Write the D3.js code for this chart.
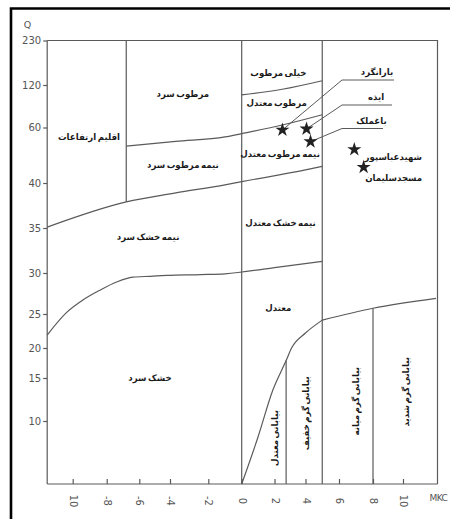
<!DOCTYPE html>
<html>
<head>
<meta charset="utf-8">
<script src="https://cdn.jsdelivr.net/npm/d3@7/dist/d3.min.js"></script>
<style>
  html, body { margin: 0; padding: 0; background: #fff; }
  svg { display: block; }
  .fa { font-family: "DejaVu Sans", sans-serif; font-weight: bold; font-size: 8.6px; word-spacing: -1.5px; fill: #1a1a1a; }
  .ax text { font-family: "DejaVu Sans", sans-serif; font-size: 10px; fill: #555; }
  .ax path, .ax line { stroke: #5a5a5a; stroke-width: 1.2; }
</style>
</head>
<body>
<svg id="chart" width="450" height="519"></svg>
<script>
// Emberger climagram: Q (pluviothermic quotient) against MKC (mean min. temp. of the coldest month)
const mkcTicks = [-10, -8, -6, -4, -2, 0, 2, 4, 6, 8, 10];
const mkcTickLabels = ["10", "-8", "-6", "-4", "-2", "0", "2", "4", "6", "8", "10"];
const qTicks = [10, 15, 20, 25, 30, 35, 40, 60, 120, 230];
const qTickLabels = ["10", "15", "20", "25", "30", "35", "40", "60", "120", "230"];
const mkcExtent = [-11.5, 12.3];
const qExtent = [0, 230];

// climate boundary curves, [MKC, Q]
const humidColdLine = [[-6.8, 53.3], [-3.7, 55], [-1, 56.6], [0, 57.8], [2.5, 63.5], [5, 78]];
const veryHumidLine = [[0, 106], [2.5, 114], [5, 130.6]];
const subhumidLine = [[-11.5, 35.1], [-6.8, 37.9], [-3.7, 38.9], [-1, 39.8], [0, 40.5], [4, 44.7], [5, 46]];
const semiaridLine = [[-11.5, 21.9], [-10.4, 25.1], [-9.4, 26.7], [-8.4, 27.9], [-7.4, 28.9], [-6.4, 29.5],
                      [-5.3, 29.6], [-4.2, 29.7], [-2.4, 29.8], [-1, 29.9], [2, 30.6], [5, 31.3]];
const aridLine = [[0, 0], [1, 7.5], [1.9, 13.6], [2.75, 17.9], [3.1, 20], [4, 22.2], [5, 24.1]];
const desertLine = [[5, 24.1], [8, 25.7], [12.2, 26.9]];

// vertical zone dividers (MKC)
const dividerMKC = [-6.8, 0, 5, 2.75, 8];

// zone names and where they sit [MKC, Q]
const zoneNames = ["مرطوب سرد", "اقلیم ارتفاعات", "نیمه مرطوب سرد", "نیمه خشک سرد", "خشک سرد",
                   "خیلی مرطوب", "مرطوب معتدل", "نیمه مرطوب معتدل", "نیمه خشک معتدل", "معتدل"];
const zoneMKC = [-3.33, -9.04, -3.33, -5.43, -5.3, 2.25, 2.14, 2.36, 2.39, 2.25];
const zoneQ = [107.3, 56.7, 46.5, 34, 15, 148.9, 94, 50.3, 35.6, 25.7];

const desertNames = ["بیابانی معتدل", "بیابانی گرم خفیف", "بیابانی گرم میانه", "بیابانی گرم شدید"];
const desertMKC = [2.03, 4, 6.97, 10.2];
const desertQ = [7.3, 10.9, 12.3, 13.4];

// stations
const stationNames = ["بارانگرد", "ایذه", "باغملک", "شهیدعباسپور", "مسجدسلیمان"];
const stationMKC = [2.51, 4.06, 4.3, 6.9, 7.45];
const stationQ = [59.1, 59.5, 54.9, 52.1, 45.7];

const svg = d3.select("#chart");

// axis spacing on the original sheet is not quite uniform
const x = d3.scaleLinear()
  .domain(mkcTicks)
  .range([72.7, 106.7, 139.3, 170, 208.3, 241.7, 274.5, 305.5, 339, 373, 403]);
const y = d3.scaleLinear()
  .domain([0].concat(qTicks))
  .range([484, 421, 378, 348, 314, 273, 228, 183, 127.5, 85, 40.5]);

const x0 = x(mkcExtent[0]), x1 = x(mkcExtent[1]);
const y0 = y(qExtent[0]), y1 = y(qExtent[1]);

// outer sheet frame (left and top edges)
svg.append("path")
  .attr("d", `M11,519 L11,8.5 L450,8.5`)
  .attr("fill", "none").attr("stroke", "#000").attr("stroke-width", 2.6);

const ink = "#5a5a5a";

// plot box
svg.append("path")
  .attr("d", `M${x0},${y1} L${x1},${y1} L${x1},${y0}`)
  .attr("fill", "none").attr("stroke", ink).attr("stroke-width", 1.2);

// Y axis
const yAxis = d3.axisLeft(y).tickValues(qTicks)
  .tickFormat((d, i) => qTickLabels[i]).tickSize(4).tickPadding(2).tickSizeOuter(0);
const gy = svg.append("g").attr("class", "ax").attr("transform", `translate(${x0},0)`).call(yAxis);
gy.select(".domain").attr("d", `M0,${y1}V${y0}`);

// X axis with inward ticks and turned labels
const xAxis = d3.axisBottom(x).tickValues(mkcTicks)
  .tickFormat((d, i) => mkcTickLabels[i]).tickSize(-5).tickSizeOuter(0);
const gx = svg.append("g").attr("class", "ax").attr("transform", `translate(0,${y0})`).call(xAxis);
gx.select(".domain").attr("d", `M${x0},0H${x1}`);
gx.selectAll(".tick text")
  .attr("transform", "rotate(90)")
  .attr("x", 17).attr("y", 0).attr("dy", "0.35em")
  .attr("text-anchor", "middle");

svg.append("text").attr("x", 429.5).attr("y", 501)
  .style("font-family", "DejaVu Sans, sans-serif").style("font-size", "9px")
  .style("letter-spacing", "-0.6px").style("fill", "#555")
  .text("MKC");
svg.append("text").attr("x", 27.5).attr("y", 27.5).attr("text-anchor", "middle")
  .style("font-family", "DejaVu Sans, sans-serif").style("font-size", "9.5px").style("fill", "#555")
  .text("Q");

// boundary curves
const line = d3.line().x(d => x(d[0])).y(d => y(d[1])).curve(d3.curveMonotoneX);
[humidColdLine, veryHumidLine, subhumidLine, semiaridLine, aridLine, desertLine].forEach(c => {
  svg.append("path").attr("d", line(c))
    .attr("fill", "none").attr("stroke", ink).attr("stroke-width", 1.2);
});

// Q of a boundary at a given MKC
function qAt(curve, m) {
  for (let i = 1; i < curve.length; i++) {
    const a = curve[i - 1], b = curve[i];
    if (m >= a[0] && m <= b[0]) return a[1] + (b[1] - a[1]) * (m - a[0]) / (b[0] - a[0]);
  }
  return curve[curve.length - 1][1];
}

// vertical dividers
const dividerEnds = dividerMKC.map(m => {
  if (m < 0) return [qExtent[1], qAt(subhumidLine, m)];
  if (m === 2.75) return [qAt(aridLine, m), qExtent[0]];
  if (m === 8) return [qAt(desertLine, m), qExtent[0]];
  return [qExtent[1], qExtent[0]];
});
dividerMKC.forEach((m, i) => {
  svg.append("line")
    .attr("x1", x(m)).attr("x2", x(m))
    .attr("y1", y(dividerEnds[i][0])).attr("y2", y(dividerEnds[i][1]))
    .attr("stroke", ink).attr("stroke-width", 1.2);
});

// zone names
zoneNames.forEach((n, i) => {
  svg.append("text").attr("class", "fa")
    .attr("x", x(zoneMKC[i])).attr("y", y(zoneQ[i])).attr("dy", "0.35em")
    .attr("text-anchor", "middle").text(n);
});
desertNames.forEach((n, i) => {
  svg.append("text").attr("class", "fa")
    .attr("transform", `translate(${x(desertMKC[i])},${y(desertQ[i])}) rotate(-90)`)
    .attr("dy", "0.35em").attr("text-anchor", "middle").text(n);
});

// station leaders: elbow then a shelf the name sits on
const leaderElbowX = 342;
const leaderShelfY = [80, 105, 128.5];
const leaderShelfEnd = [394, 392, 383];
const labelOffset = [[0, 0], [0, 0], [0, 0], [39, 11], [30, 14]];
stationNames.forEach((n, i) => {
  const sx = x(stationMKC[i]), sy = y(stationQ[i]);
  if (i < 3) {
    svg.append("path")
      .attr("d", `M${sx},${sy} L${leaderElbowX},${leaderShelfY[i]} L${leaderShelfEnd[i]},${leaderShelfY[i]}`)
      .attr("fill", "none").attr("stroke", ink).attr("stroke-width", 1);
    svg.append("text").attr("class", "fa")
      .attr("x", (leaderElbowX + 18 + leaderShelfEnd[i]) / 2).attr("y", leaderShelfY[i] - 5)
      .attr("text-anchor", "middle").text(n);
  } else {
    svg.append("text").attr("class", "fa")
      .attr("x", sx + labelOffset[i][0]).attr("y", sy + labelOffset[i][1])
      .attr("text-anchor", "middle").text(n);
  }
});

// station stars
svg.selectAll(".star").data(stationNames).join("path")
  .attr("class", "star")
  .attr("transform", (d, i) => `translate(${x(stationMKC[i])},${y(stationQ[i])})`)
  .attr("d", d3.symbol(d3.symbolStar, 62))
  .attr("fill", "#222");
</script>
</body>
</html>
